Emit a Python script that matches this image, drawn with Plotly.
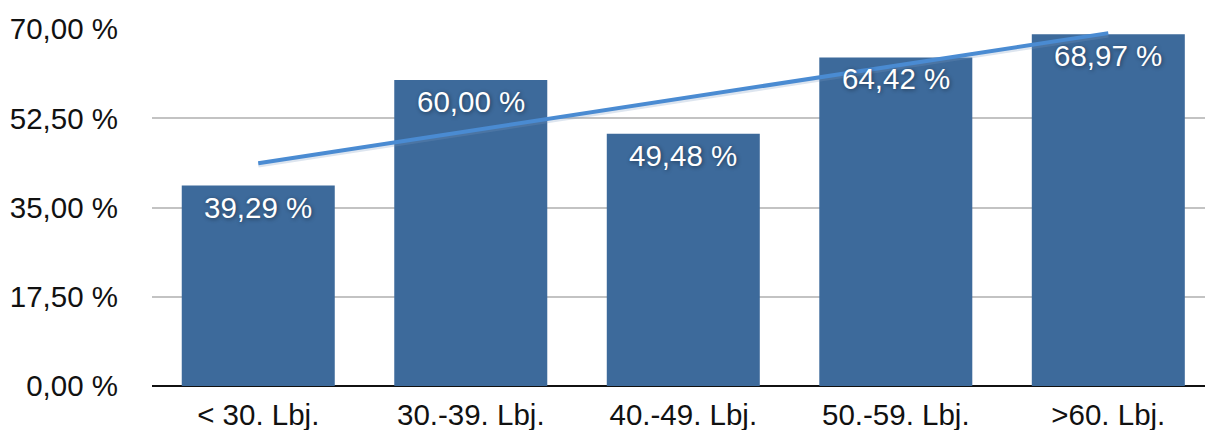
import numpy as np
import plotly.graph_objects as go

categories = ["< 30. Lbj.", "30.-39. Lbj.", "40.-49. Lbj.", "50.-59. Lbj.", ">60. Lbj."]
values = [39.29, 60.00, 49.48, 64.42, 68.97]
tick_values = [0, 17.5, 35, 52.5, 70]
tick_labels = ["0,00 %", "17,50 %", "35,00 %", "52,50 %", "70,00 %"]

FONT = "Liberation Sans, Arial, Helvetica, sans-serif"
BAR_COLOR = "#3d6a9b"
TREND_COLOR = "#4a8bd2"
FS = 29.5

x = np.arange(len(values))
slope, intercept = np.polyfit(x, values, 1)
trend = slope * x + intercept

labels = [f"{v:.2f} %".replace(".", ",") for v in values]

fig = go.Figure()
fig.add_trace(go.Bar(
    x=x, y=values,
    marker=dict(color=BAR_COLOR, line=dict(width=0)),
    hoverinfo="skip",
))
# soft shadow beneath the trend line
fig.add_trace(go.Scatter(
    x=x, y=trend - 0.35, mode="lines",
    line=dict(color="rgba(120,150,190,0.25)", width=5),
    hoverinfo="skip",
))
fig.add_trace(go.Scatter(
    x=x, y=trend, mode="lines",
    line=dict(color=TREND_COLOR, width=4),
    hoverinfo="skip",
))

# value labels inside the top of each bar, drawn above the trend line
for xi, v, lab in zip(x, values, labels):
    fig.add_annotation(
        x=xi, y=v, xref="x", yref="y",
        text=lab, showarrow=False,
        xanchor="center", yanchor="top", yshift=-3,
        font=dict(family=FONT, size=FS, color="white",
                  shadow="1px 1px 4px rgba(0,0,0,0.45)"),
    )

fig.update_layout(
    width=1205, height=430,
    margin=dict(l=152, r=0, t=29, b=44),
    paper_bgcolor="white", plot_bgcolor="white",
    showlegend=False,
    bargap=0.28,
    font=dict(family=FONT, size=FS, color="#111111"),
    xaxis=dict(
        range=[-0.5, 4.455],
        tickmode="array", tickvals=list(x), ticktext=categories,
        showgrid=False, zeroline=False,
        showline=False, ticks="",
        tickfont=dict(size=FS, color="#111111"),
        ticklabelstandoff=8,
        automargin=False,
    ),
    yaxis=dict(
        range=[0, 70],
        tickmode="array", tickvals=tick_values, ticktext=tick_labels,
        showgrid=True, gridcolor="#c3c3c3", gridwidth=2,
        zeroline=True, zerolinecolor="#111111", zerolinewidth=2,
        showline=False, ticks="",
        tickfont=dict(size=FS, color="#111111"),
        ticklabelstandoff=33,
        automargin=False,
    ),
)

fig.write_html("out.html")
